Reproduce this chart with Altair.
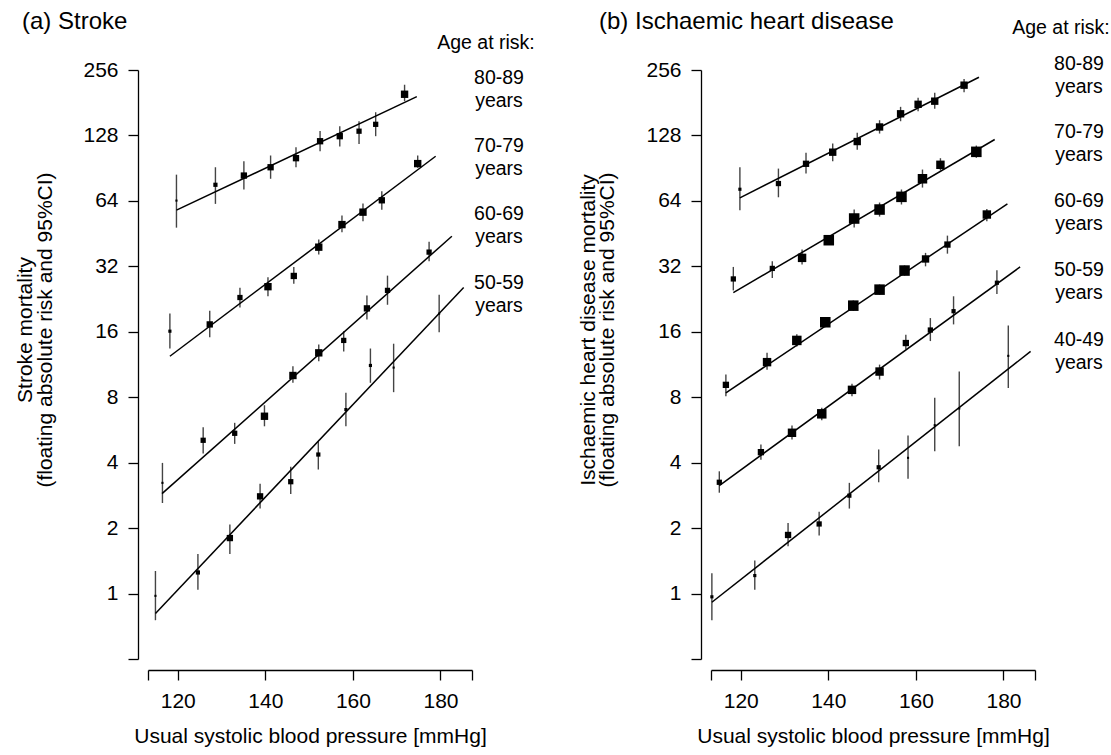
import altair as alt
import pandas as pd

FONT = "Liberation Sans"

# ---------------- data: (a) Stroke ----------------
stroke_ages = ["80-89", "70-79", "60-69", "50-59"]
stroke_sbp = {
    "80-89": [119.7, 128.6, 135.1, 141.2, 147.0, 152.5, 157.0, 161.4, 165.2, 171.8],
    "70-79": [118.2, 127.3, 134.2, 140.6, 146.5, 152.2, 157.5, 162.3, 166.6, 174.8],
    "60-69": [116.5, 125.8, 133.0, 139.8, 146.3, 152.2, 157.9, 163.2, 167.9, 177.4],
    "50-59": [114.9, 124.6, 131.9, 138.8, 145.8, 152.1, 158.4, 164.0, 169.3, 179.7],
}
stroke_val = {
    "80-89": [64.2, 75.9, 83.7, 91.4, 100.6, 120.4, 127.0, 133.9, 144.0, 198.0],
    "70-79": [16.1, 17.3, 23.0, 25.8, 28.9, 39.2, 49.8, 56.8, 64.4, 95.0],
    "60-69": [3.23, 5.07, 5.46, 6.54, 10.07, 12.8, 14.6, 20.5, 24.8, 37.2],
    "50-59": [0.976, 1.25, 1.80, 2.80, 3.27, 4.36, 7.02, 11.2, 10.95, 19.4],
}
stroke_lo = {
    "80-89": [48.2, 62.0, 72.2, 80.9, 91.4, 108.3, 114.0, 117.0, 127.0, 184.0],
    "70-79": [13.4, 15.1, 20.7, 23.3, 26.6, 36.3, 45.9, 51.6, 58.2, 90.8],
    "60-69": [2.61, 4.41, 4.88, 5.88, 9.32, 11.7, 13.0, 18.2, 21.3, 33.8],
    "50-59": [0.754, 1.04, 1.52, 2.46, 2.87, 3.72, 5.88, 9.32, 8.44, 15.9],
}
stroke_hi = {
    "80-89": [84.5, 91.4, 97.4, 103.5, 113.0, 134.0, 141.0, 148.9, 163.7, 219.0],
    "70-79": [19.4, 20.0, 25.5, 28.5, 31.8, 42.5, 54.8, 62.2, 70.9, 103.5],
    "60-69": [3.99, 5.82, 6.10, 7.35, 11.1, 13.97, 16.1, 23.5, 29.0, 41.5],
    "50-59": [1.27, 1.52, 2.08, 3.20, 3.83, 5.02, 8.38, 13.4, 14.1, 23.7],
}
stroke_weight = {
    "80-89": [2, 4, 6, 6, 6, 6, 6, 5, 5, 7],
    "70-79": [3, 6, 5, 7, 6, 7, 7, 7, 6, 7],
    "60-69": [2, 5, 5, 7, 7, 7, 5, 6, 5, 5],
    "50-59": [2, 4, 6, 6, 5, 4, 3, 3, 2, 2],
}
stroke_fit_sbp = {
    "80-89": [119.7, 174.6], "70-79": [118.2, 178.9],
    "60-69": [116.4, 182.6], "50-59": [114.9, 185.3],
}
stroke_fit_val = {
    "80-89": [58.0, 193.0], "70-79": [12.35, 102.7],
    "60-69": [2.88, 44.0], "50-59": [0.81, 25.6],
}

# ---------------- data: (b) Ischaemic heart disease ----------------
ihd_ages = ["80-89", "70-79", "60-69", "50-59", "40-49"]
ihd_sbp = {
    "80-89": [119.8, 128.6, 134.9, 141.0, 146.6, 151.7, 156.5, 160.5, 164.3, 171.0],
    "70-79": [118.3, 127.2, 134.0, 140.1, 145.9, 151.7, 156.7, 161.5, 165.6, 173.8],
    "60-69": [116.6, 126.0, 132.8, 139.3, 145.7, 151.7, 157.4, 162.2, 167.2, 176.2],
    "50-59": [115.1, 124.6, 131.7, 138.5, 145.4, 151.7, 157.7, 163.3, 168.6, 178.5],
    "40-49": [113.4, 123.2, 130.8, 137.9, 144.8, 151.5, 158.2, 164.3, 169.9, 181.1],
}
ihd_val = {
    "80-89": [72.4, 76.9, 94.8, 107.2, 120.0, 140.0, 161.0, 178.0, 184.0, 218.0],
    "70-79": [28.0, 31.3, 35.0, 42.2, 53.1, 58.4, 66.8, 80.9, 93.8, 107.6],
    "60-69": [9.12, 11.6, 14.6, 17.7, 21.1, 25.0, 30.6, 34.6, 40.3, 55.4],
    "50-59": [3.25, 4.47, 5.49, 6.71, 8.65, 10.5, 14.2, 16.3, 19.9, 26.9],
    "40-49": [0.966, 1.21, 1.86, 2.09, 2.82, 3.81, 4.21, 5.95, 7.1, 12.4],
}
ihd_lo = {
    "80-89": [58.0, 66.5, 85.5, 97.4, 110.0, 130.6, 148.8, 165.4, 169.7, 202.0],
    "70-79": [24.8, 28.3, 32.6, 40.3, 48.3, 54.2, 61.6, 73.7, 88.5, 101.0],
    "60-69": [8.08, 10.7, 13.7, 16.8, 20.0, 23.7, 29.0, 32.0, 36.6, 51.6],
    "50-59": [2.91, 4.13, 5.11, 6.27, 8.08, 9.65, 13.3, 14.5, 17.3, 23.9],
    "40-49": [0.754, 1.04, 1.65, 1.85, 2.46, 3.25, 3.37, 4.51, 4.76, 8.83],
}
ihd_hi = {
    "80-89": [91.4, 90.1, 106.5, 117.5, 131.6, 150.4, 173.3, 190.7, 201.0, 233.0],
    "70-79": [31.8, 33.8, 38.2, 44.3, 58.4, 62.9, 72.2, 89.2, 100.6, 115.0],
    "60-69": [10.17, 12.8, 15.6, 18.7, 22.3, 26.4, 32.3, 36.9, 44.3, 58.8],
    "50-59": [3.65, 4.85, 5.93, 7.15, 9.22, 11.3, 15.5, 18.5, 23.3, 30.7],
    "40-49": [1.24, 1.42, 2.11, 2.38, 3.23, 4.60, 5.33, 7.95, 10.5, 17.1],
}
ihd_weight = {
    "80-89": [3, 5, 6, 7, 7, 7, 7, 7, 7, 7],
    "70-79": [5, 5, 8, 10, 10, 10, 10, 9, 8, 10],
    "60-69": [6, 8, 9, 10, 10, 10, 10, 7, 6, 8],
    "50-59": [5, 6, 8, 9, 8, 8, 6, 5, 4, 4],
    "40-49": [3, 3, 6, 5, 4, 4, 2, 2, 2, 2],
}
ihd_fit_sbp = {
    "80-89": [119.8, 174.4], "70-79": [118.3, 178.0], "60-69": [116.6, 180.9],
    "50-59": [115.1, 183.8], "40-49": [113.4, 186.2],
}
ihd_fit_val = {
    "80-89": [66.1, 237.0], "70-79": [24.2, 122.6], "60-69": [8.38, 62.0],
    "50-59": [3.14, 31.8], "40-49": [0.912, 13.0],
}

x_ticks = [113.2, 120, 140, 160, 180, 187.2]
y_ticks = [0.5, 1, 2, 4, 8, 16, 32, 64, 128, 256]
x_title = "Usual systolic blood pressure [mmHg]"


def frames(ages, sbp, val, lo, hi, wt, fsbp, fval):
    pts, fit = [], []
    for a in ages:
        for i in range(len(sbp[a])):
            pts.append(dict(age=a, sbp=sbp[a][i], val=val[a][i], lo=lo[a][i],
                            hi=hi[a][i], w=wt[a][i]))
        for i in range(2):
            fit.append(dict(age=a, sbp=fsbp[a][i], val=fval[a][i]))
    return pd.DataFrame(pts), pd.DataFrame(fit)


xscale = alt.Scale(domain=[113.2, 187.2], nice=False, zero=False)
yscale = alt.Scale(type="log", base=2, domain=[0.5, 256], nice=False)
xaxis = alt.Axis(values=x_ticks, labelExpr="datum.value % 20 == 0 ? datum.label : ''",
                 title=x_title, offset=11)
yaxis = alt.Axis(values=y_ticks, labelExpr="datum.value >= 1 ? datum.label : ''",
                 title=None, offset=10)


def text_at(txt, x, y, size, align="center", angle=None, baseline="middle"):
    kw = dict(text=txt, fontSize=size, font=FONT, align=align, baseline=baseline,
              color="black")
    if angle is not None:
        kw["angle"] = angle
    return alt.Chart(pd.DataFrame({"t": [txt]})).mark_text(**kw).encode(
        x=alt.value(x), y=alt.value(y))


def anchor(x):
    # invisible frame edge so that the page bounds match the 1111x755 window
    return alt.Chart(pd.DataFrame({"t": [0]})).mark_rule(strokeOpacity=0).encode(
        x=alt.value(x), y=alt.value(-70), y2=alt.value(685))


def panel(pts, fit, title, title_x, ytitle1, ytitle2, yt_x1, yt_x2,
          age_ax, age_ay, age_labels, lab_x, lab_ys, edge_x):
    X = alt.X("sbp:Q", scale=xscale, axis=xaxis)
    err = alt.Chart(pts).mark_rule(color="#444444", strokeWidth=1.4).encode(
        x=X, y=alt.Y("lo:Q", scale=yscale, axis=yaxis), y2="hi:Q")
    sq = alt.Chart(pts).mark_square(color="black", opacity=1, filled=True).encode(
        x=X, y=alt.Y("val:Q", scale=yscale, axis=yaxis),
        size=alt.Size("w:Q", scale=alt.Scale(type="pow", exponent=2, domain=[0, 12],
                                             range=[0, 160]), legend=None))
    ln = alt.Chart(fit).mark_line(color="black", strokeWidth=1.5).encode(
        x=X, y=alt.Y("val:Q", scale=yscale, axis=yaxis), detail="age:N")
    layers = [err, sq, ln, anchor(edge_x)]
    layers.append(text_at(title, title_x, -48, 24, align="left"))
    layers.append(text_at(ytitle1, yt_x1, 260, 21, angle=270))
    layers.append(text_at(ytitle2, yt_x2, 260, 21, angle=270))
    layers.append(text_at("Age at risk:", age_ax, age_ay, 19.5))
    for lab, yy in zip(age_labels, lab_ys):
        layers.append(text_at(lab, lab_x, yy, 19.5))
        layers.append(text_at("years", lab_x, yy + 23, 19.5))
    return alt.layer(*layers).properties(width=324, height=589)


s_pts, s_fit = frames(stroke_ages, stroke_sbp, stroke_val, stroke_lo, stroke_hi,
                      stroke_weight, stroke_fit_sbp, stroke_fit_val)
i_pts, i_fit = frames(ihd_ages, ihd_sbp, ihd_val, ihd_lo, ihd_hi,
                      ihd_weight, ihd_fit_sbp, ihd_fit_val)

left = panel(s_pts, s_fit, "(a) Stroke", -126,
             "Stroke mortality", "(floating absolute risk and 95%CI)", -122, -102,
             338, -27, stroke_ages, 351, [8, 76, 144, 213], -148)
right = panel(i_pts, i_fit, "(b) Ischaemic heart disease", -112,
              "Ischaemic heart disease mortality", "(floating absolute risk and 95%CI)",
              -122, -103, 350, -42, ihd_ages, 368, [-6, 62, 131, 200, 270], 400)

chart = alt.hconcat(left, right, spacing=239, bounds="flush").properties(
    padding=0,
).configure_view(stroke=None).configure_axis(
    grid=False, domainColor="black", domainWidth=1.3, tickColor="black", tickWidth=1.3,
    tickSize=10, labelFont=FONT, labelFontSize=21, labelColor="black", labelPadding=10,
    titleFont=FONT, titleFontSize=21, titleFontWeight="normal", titleColor="black",
    titlePadding=14,
)

chart.save("out.html", embed_options={"renderer": "svg", "actions": False})
